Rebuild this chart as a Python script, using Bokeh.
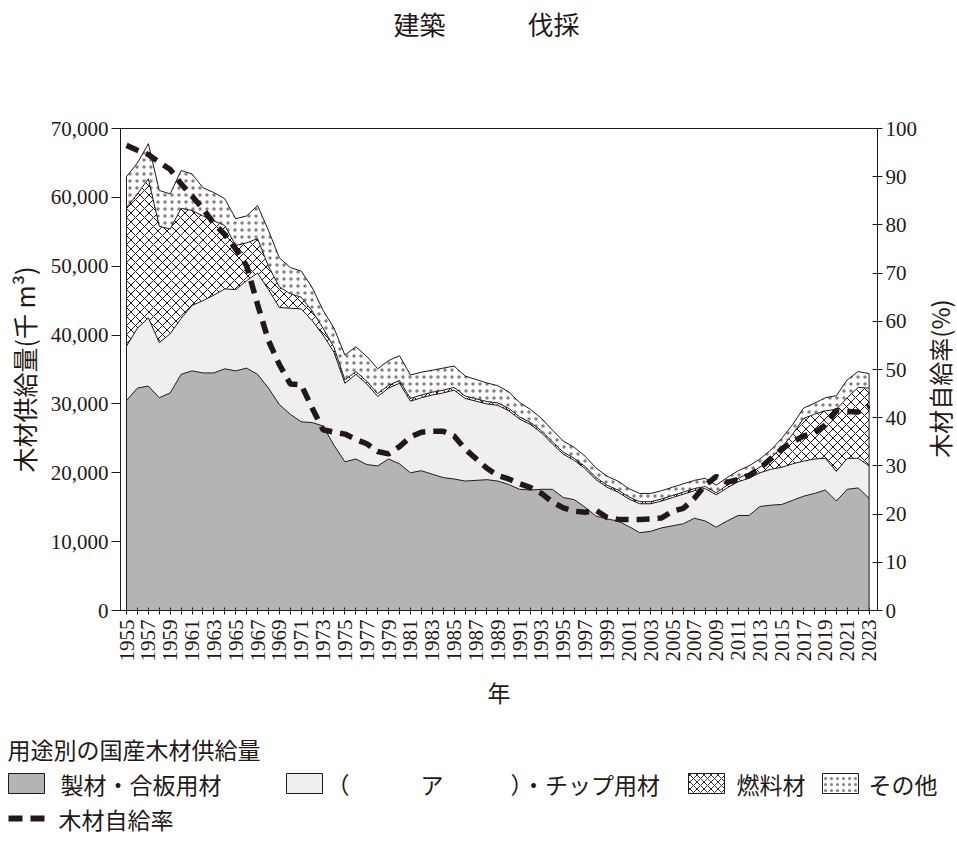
import math
import numpy as np
from bokeh.plotting import figure
from bokeh.models import (Range1d, LinearAxis, FixedTicker, NumeralTickFormatter,
                          CustomJSTickFormatter)
from bokeh.layouts import row
from bokeh.embed import file_html
from bokeh.resources import INLINE
from bokeh.core.properties import value

# ---------------- data (千m³, %) ----------------
years = list(range(1955, 2024))

sawn = [30500, 32300, 32600, 30900, 31600, 34300, 34800, 34500, 34500, 35100,
        34800, 35200, 34300, 32300, 29900, 28500, 27400, 27300, 26800, 24000,
        21600, 22000, 21200, 21000, 22000, 21300, 20000, 20300, 19800, 19300,
        19100, 18800, 18900, 19000, 18800, 18300, 17600, 17500, 17600, 17600,
        16400, 16100, 15000, 13700, 13300, 13000, 12200, 11300, 11500, 12000,
        12300, 12600, 13400, 13000, 12100, 13000, 13800, 13800, 15100, 15300,
        15400, 16000, 16600, 17000, 17500, 15900, 17600, 17800, 16300]

pulp = [7900, 8700, 9900, 8000, 8600, 8100, 9500, 10500, 11300, 11600,
        11800, 12700, 14700, 14300, 14100, 15400, 16400, 14800, 13200, 13500,
        11400, 12300, 11700, 10100, 10300, 11700, 10400, 10600, 11500, 12300,
        12900, 12000, 11500, 11000, 11000, 10700, 10200, 9500, 8200, 6600,
        6300, 5700, 5600, 5300, 4600, 4200, 4000, 4200, 4000, 3900,
        4100, 4300, 4000, 4700, 4700, 4800, 4900, 5400, 4900, 5200,
        5400, 5300, 5100, 5000, 4600, 4300, 4500, 4300, 4700]

fuel = [20100, 19500, 20200, 16900, 15200, 16000, 13800, 12300, 10800, 9200,
        6400, 5500, 5000, 3400, 3000, 2100, 1700, 1400, 1000, 700,
        500, 400, 400, 400, 400, 400, 400, 400, 400, 400,
        400, 350, 350, 350, 350, 350, 300, 300, 300, 300,
        300, 300, 300, 300, 300, 300, 300, 300, 300, 300,
        300, 300, 300, 300, 300, 400, 500, 700, 800, 1600,
        2900, 4300, 6200, 6500, 6900, 9000, 8800, 10300, 11300]

other = [4500, 4500, 5100, 5200, 5100, 5500, 5300, 4100, 4100, 3900,
         3900, 3900, 4800, 5200, 4200, 3800, 3800, 3400, 2600, 2800,
         3600, 3600, 3600, 3600, 3600, 3600, 3400, 3300, 3200, 3200,
         3100, 2900, 2800, 2700, 2500, 2400, 2100, 1900, 1800, 1700,
         1600, 1600, 1500, 1400, 1300, 1300, 1200, 1200, 1200, 1200,
         1200, 1200, 1200, 1200, 1100, 1100, 1100, 1100, 1200, 1200,
         1300, 1400, 1500, 1600, 1900, 2000, 2600, 2300, 2100]

rate = [96.5, 95.5, 94.6, 93.0, 91.5, 88.5, 86.0, 83.3, 80.3, 78.0,
        75.0, 71.5, 63.5, 56.0, 51.0, 47.0, 46.8, 42.0, 37.5, 37.0,
        36.6, 35.5, 34.6, 33.0, 32.5, 34.0, 36.0, 37.0, 37.2, 37.2,
        36.2, 33.5, 31.5, 29.5, 28.0, 27.3, 26.3, 25.5, 24.3, 22.5,
        21.3, 20.6, 20.4, 20.8, 19.3, 18.9, 18.9, 18.9, 19.0, 19.2,
        20.6, 21.2, 23.3, 26.0, 27.8, 26.6, 27.2, 28.0, 29.5, 31.5,
        33.5, 35.0, 36.2, 36.8, 38.5, 41.5, 41.3, 41.2, 42.5]

left_ticks = [0, 10000, 20000, 30000, 40000, 50000, 60000, 70000]
right_ticks = [0, 10, 20, 30, 40, 50, 60, 70, 80, 90, 100]

top_words = ["建築", "伐採"]
legend_title = "用途別の国産木材供給量"
series_names = ["製材・合板用材", "（", "ア", "）・チップ用材", "燃料材", "その他"]
line_name = "木材自給率"
y_left_label = "木材供給量(千 m³)"
y_right_label = "木材自給率(%)"
x_label = "年"

# ---------------- style ----------------
INK = "#231815"
GRAY = "#b4b4b4"
LIGHT = "#efefef"
JP = "Noto Sans CJK JP"
NUM = "Liberation Serif"
W = 957
MAIN_W = 920

c1 = np.array(sawn, dtype=float)
c2 = c1 + np.array(pulp)
c3 = c2 + np.array(fuel)
c4 = c3 + np.array(other)

# ---------------- top words (page y 0..100) ----------------
top = figure(width=W, height=100, x_range=Range1d(0, W), y_range=Range1d(100, 0),
             output_backend="svg", toolbar_location=None, min_border=0,
             x_axis_location=None, y_axis_location=None)
top.grid.visible = False
top.outline_line_color = None
top.text(x=[393, 527], y=[23, 23], text=top_words, text_font=value(JP),
         text_font_size="26px", text_color=INK, text_baseline="middle", text_align="left")

# ---------------- main chart (page y 100..715) ----------------
p = figure(width=MAIN_W, height=615,
           x_range=Range1d(1954.45, 2023.77), y_range=Range1d(0, 70000),
           output_backend="svg", toolbar_location=None,
           min_border_left=120, min_border_right=MAIN_W - 880, min_border_top=28,
           min_border_bottom=105)
p.grid.visible = False
p.outline_line_color = INK
p.outline_line_width = 1
p.extra_y_ranges = {"pct": Range1d(0, 100)}

p.varea(x=years, y1=0, y2=c1, fill_color=GRAY)
p.varea(x=years, y1=c1, y2=c2, fill_color=LIGHT)
p.varea(x=years, y1=c2, y2=c3, fill_color="white", hatch_pattern="x",
        hatch_color=INK, hatch_scale=9, hatch_weight=1.0)
p.varea(x=years, y1=c3, y2=c4, fill_color="white", hatch_pattern=".",
        hatch_color=INK, hatch_scale=7, hatch_weight=0.5, hatch_alpha=0.55)
for c in (c1, c2, c3, c4):
    p.line(years, c, line_color=INK, line_width=1)
p.segment(x0=[years[0], years[-1]], y0=[0, 0], x1=[years[0], years[-1]],
          y1=[c4[0], c4[-1]], line_color=INK, line_width=1)

p.line(years, rate, y_range_name="pct", line_color=INK, line_width=5.5,
       line_dash="13 8", line_cap="butt")

ax_r = LinearAxis(y_range_name="pct", ticker=FixedTicker(ticks=right_ticks))
p.add_layout(ax_r, "right")

p.yaxis[0].ticker = FixedTicker(ticks=left_ticks)
p.yaxis[0].formatter = NumeralTickFormatter(format="0,0")

p.xaxis.ticker = FixedTicker(ticks=years)
p.xaxis.formatter = CustomJSTickFormatter(
    code="var t = Math.round(tick); return (t % 2 === 1) ? String(t) : '';")
p.xaxis.major_label_orientation = math.pi / 2

for ax in [p.xaxis[0], p.yaxis[0], ax_r]:
    ax.axis_line_color = INK
    ax.major_tick_line_color = INK
    ax.minor_tick_line_color = None
    ax.major_label_text_font = NUM
    ax.major_label_text_font_size = "21px"
    ax.major_label_text_color = INK
    ax.axis_label_text_font = JP
    ax.axis_label_text_font_size = "25px"
    ax.axis_label_text_font_style = "normal"
    ax.axis_label_text_color = INK

p.xaxis.major_tick_in = 3
p.xaxis.major_tick_out = 4
p.xaxis.major_label_standoff = 5
p.xaxis.axis_label = x_label
p.xaxis.axis_label_text_font_size = "23px"
p.xaxis.axis_label_standoff = 10

p.yaxis[0].major_tick_in = 0
p.yaxis[0].major_tick_out = 9
p.yaxis[0].major_label_standoff = 3
p.yaxis[0].axis_label = y_left_label
p.yaxis[0].axis_label_standoff = 6

ax_r.major_tick_in = 5
ax_r.major_tick_out = 5
ax_r.major_label_standoff = 3

# right-hand title strip (reads bottom to top), same frame rows as the chart
RT_W = W - MAIN_W
rt = figure(width=RT_W, height=615, x_range=Range1d(0, RT_W),
            y_range=Range1d(0, 100), output_backend="svg", toolbar_location=None,
            min_border_left=0, min_border_right=0, min_border_top=28, min_border_bottom=105,
            x_axis_location=None, y_axis_location=None)
rt.grid.visible = False
rt.outline_line_color = None
rt.text(x=[RT_W / 2], y=[(610 - 378) / 4.82], text=[y_right_label], angle=math.pi / 2,
        text_font=value(JP), text_font_size="24px", text_color=INK,
        text_align="center", text_baseline="middle")

# ---------------- legend (page y 715..838) ----------------
leg = figure(width=W, height=123, x_range=Range1d(0, W), y_range=Range1d(123, 0),
             output_backend="svg", toolbar_location=None, min_border=0,
             x_axis_location=None, y_axis_location=None)
leg.grid.visible = False
leg.outline_line_color = None

r0, r1, r2 = 33, 68, 103
box_x = [8, 286, 688, 822]
text_x = [60, 326, 420, 510, 736, 868]
leg.quad(left=[box_x[0]], right=[box_x[0] + 36], top=[r1 - 10], bottom=[r1 + 10],
         fill_color=GRAY, line_color=INK, line_width=1)
leg.quad(left=[box_x[1]], right=[box_x[1] + 36], top=[r1 - 10], bottom=[r1 + 10],
         fill_color=LIGHT, line_color=INK, line_width=1)
leg.quad(left=[box_x[2]], right=[box_x[2] + 36], top=[r1 - 10], bottom=[r1 + 10],
         fill_color="white", hatch_pattern="x", hatch_color=INK, hatch_scale=7,
         hatch_weight=0.9, line_color=INK, line_width=1)
leg.quad(left=[box_x[3]], right=[box_x[3] + 36], top=[r1 - 10], bottom=[r1 + 10],
         fill_color="white", hatch_pattern=".", hatch_color=INK, hatch_scale=6,
         hatch_weight=0.5, hatch_alpha=0.55, line_color=INK, line_width=1)

leg.text(x=[7], y=[r0], text=[legend_title], text_font=value(JP), text_font_size="23px",
         text_color=INK, text_baseline="middle", text_align="left")
leg.text(x=text_x, y=[r1] * len(text_x), text=series_names, text_font=value(JP),
         text_font_size="23px", text_color=INK, text_baseline="middle", text_align="left")
leg.segment(x0=[8, 30], y0=[r2, r2], x1=[22, 44], y1=[r2, r2], line_color=INK, line_width=6)
leg.text(x=[58], y=[r2], text=[line_name], text_font=value(JP), text_font_size="23px",
         text_color=INK, text_baseline="middle", text_align="left")

middle = row(p, rt, spacing=0)
open("out.html", "w").write(file_html([top, middle, leg], INLINE))
